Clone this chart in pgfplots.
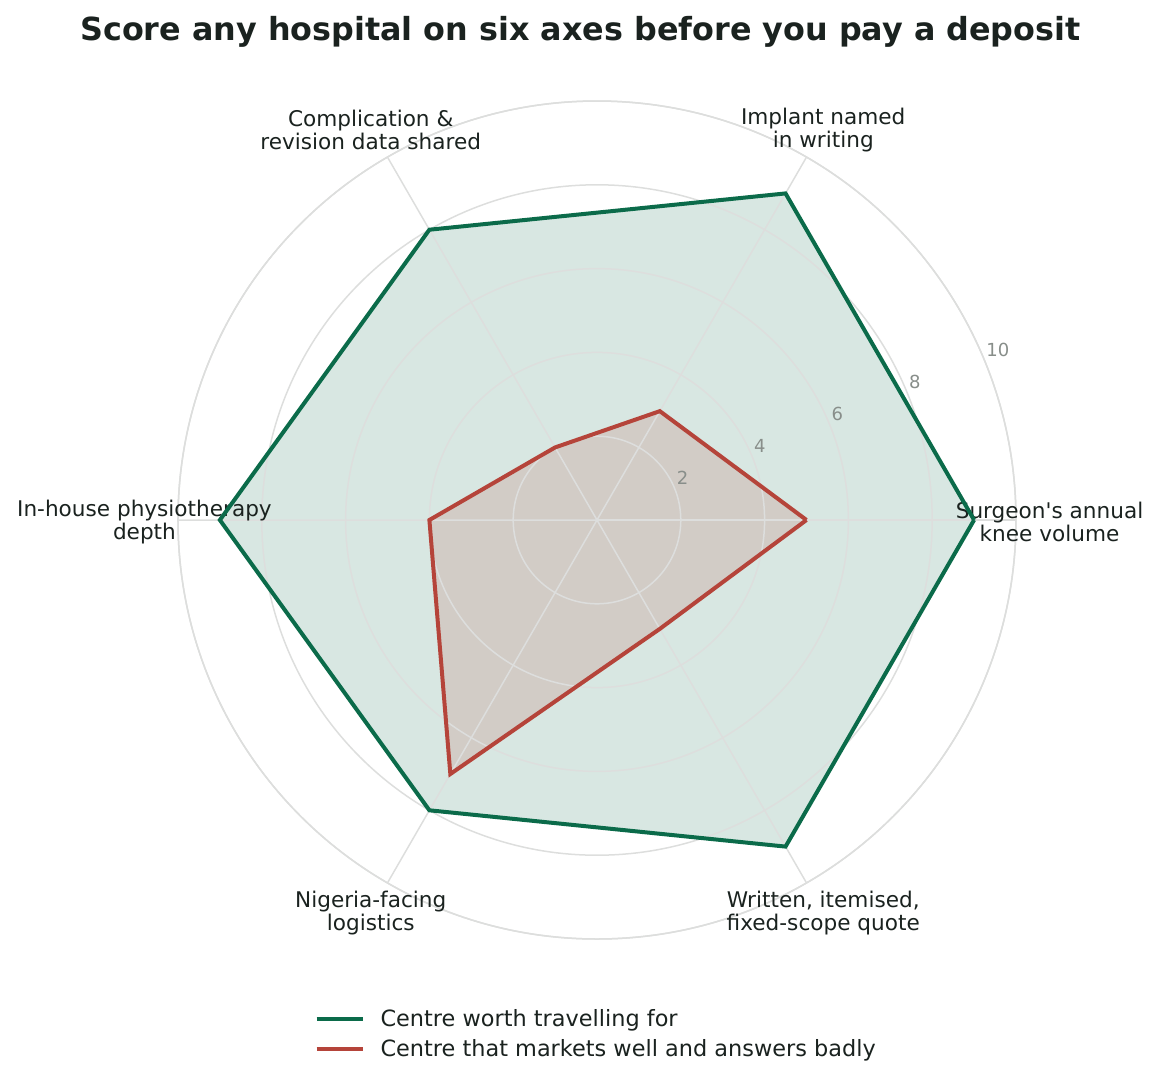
\documentclass[border=0pt]{standalone}
\usepackage{fontspec}
\setmainfont{DejaVu Sans}
\usepackage{pgfplots}
\usepgfplotslibrary{polar}
\pgfplotsset{compat=1.18}
\definecolor{cgreen}{HTML}{0B6B4A}
\definecolor{cred}{HTML}{B5443A}
\definecolor{ctext}{HTML}{1A221F}
\definecolor{cgrid}{HTML}{DDDEDD}
\definecolor{ctick}{HTML}{888E8A}
\tikzset{
  rlab/.style={anchor=south west, inner sep=0pt, font=\fontsize{9}{10}\selectfont, text=ctick, xshift=1pt, yshift=1.5pt},
  clab/.style={align=center, font=\fontsize{10.8}{11.5}\selectfont, text=ctext, yshift=-0.8pt},
}
\pgfplotsset{
  radar/.style={
    scale only axis, width=419pt, height=419pt,
    at={(0pt,0pt)}, anchor=center,
    xmin=0, xmax=360, ymin=0, ymax=10,
    xtick={0,60,...,300}, xticklabels={},
    ytick={2,4,6,8,10}, yticklabels={},
    tick style={draw=none},
    clip=false,
  }
}
\begin{document}
\begin{tikzpicture}
\path[use as bounding box] (-298.5pt,-283.5pt) rectangle (282pt,260pt);
\begin{polaraxis}[radar, hide axis]
\addplot[draw=none, fill=cgreen, fill opacity=0.16]
  coordinates {(0,9) (60,9) (120,8) (180,9) (240,8) (300,9) (0,9)};
\addplot[draw=none, fill=cred, fill opacity=0.17]
  coordinates {(0,5) (60,3) (120,2) (180,4) (240,7) (300,3) (0,5)};
\end{polaraxis}
\begin{polaraxis}[
  radar,
  grid=major,
  major grid style={draw=cgrid, line width=0.75pt},
  axis line style={draw=cgrid, line width=0.75pt},
  legend style={draw=none, fill=none, inner sep=0pt, outer sep=0pt,
    at={(0.163,-0.1155)}, anchor=west, row sep=4.5pt, column sep=8pt,
    font=\fontsize{11.2}{13}\selectfont\color{ctext},
    nodes={inner sep=0pt, text height=8.3pt, text depth=2.5pt}},
  legend cell align=left,
  legend image code/.code={\draw[#1, line width=2pt] (0pt,0.8pt) -- (23pt,0.8pt);},
]
\node[clab] at (axis cs:0,10.8) {Surgeon\textquotesingle s annual\\knee volume};
\node[clab] at (axis cs:60,10.8) {Implant named\\in writing};
\node[clab] at (axis cs:120,10.8) {Complication \&\\revision data shared};
\node[clab] at (axis cs:180,10.8) {In-house physiotherapy\\depth};
\node[clab] at (axis cs:240,10.8) {Nigeria-facing\\logistics};
\node[clab] at (axis cs:300,10.8) {Written, itemised,\\fixed-scope quote};
\node[rlab] at (axis cs:22.5,2) {2};
\node[rlab] at (axis cs:22.5,4) {4};
\node[rlab] at (axis cs:22.5,6) {6};
\node[rlab] at (axis cs:22.5,8) {8};
\node[rlab] at (axis cs:22.5,10) {10};
\addplot[draw=cgreen, line width=2pt, line join=miter]
  coordinates {(0,9) (60,9) (120,8) (180,9) (240,8) (300,9) (0,9)};
\addlegendentry{Centre worth travelling for}
\addplot[draw=cred, line width=2pt, line join=miter]
  coordinates {(0,5) (60,3) (120,2) (180,4) (240,7) (300,3) (0,5)};
\addlegendentry{Centre that markets well and answers badly}
\end{polaraxis}
\node[anchor=base, font=\fontsize{15.9}{18}\selectfont\bfseries, text=ctext] at (-8.25pt,239.5pt) {Score any hospital on six axes before you pay a deposit};
\end{tikzpicture}
\end{document}
